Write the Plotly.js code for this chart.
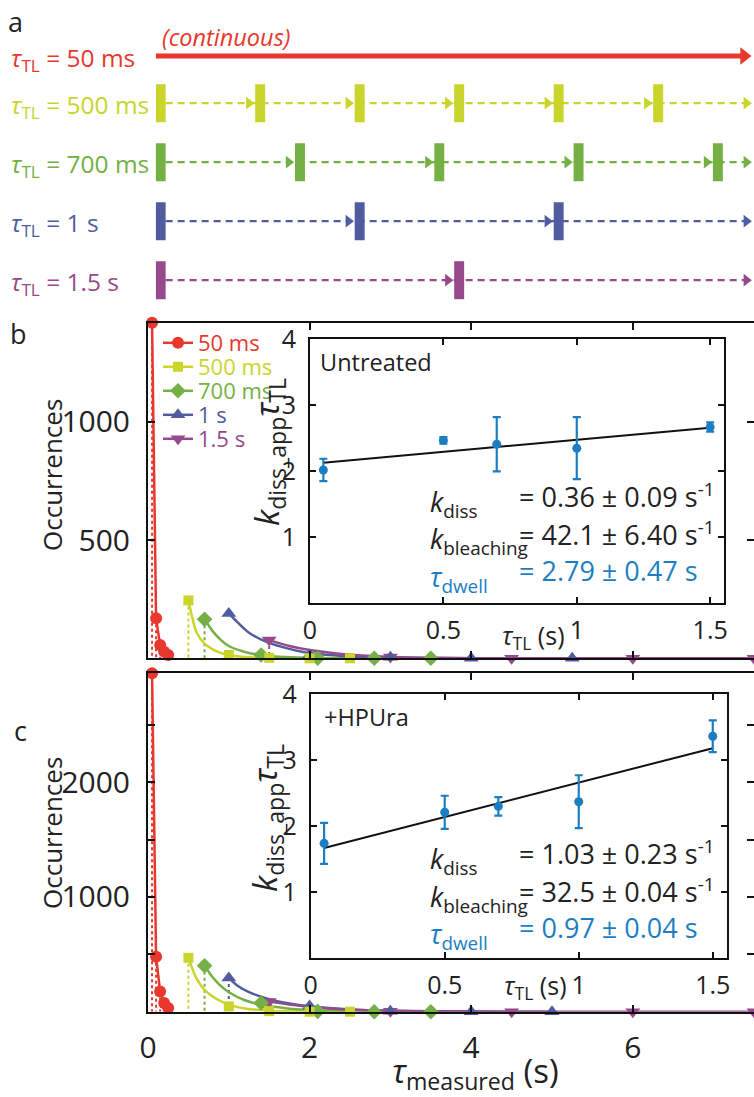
<!DOCTYPE html>
<html><head><meta charset="utf-8">
<script src="https://cdn.plot.ly/plotly-3.0.1.min.js"></script>
<style>html,body{margin:0;padding:0;background:#fff}</style>
</head><body><div id="chart" style="width:754px;height:1097px"></div>
<script>
// ---------- Panel a: illumination schemes ----------
const schemeLabels = ['50 ms', '500 ms', '700 ms', '1 s', '1.5 s'];
const frames500 = [0, 0.5, 1.0, 1.5, 2.0, 2.5];
const frames700 = [0, 0.7, 1.4, 2.1, 2.8];
const frames1000 = [0, 1.0, 2.0];
const frames1500 = [0, 1.5];
const exposure = 0.05;
const timelineEnd = 3.0;

// ---------- Panel b (untreated): histograms ----------
const legendLabels = ['50 ms', '500 ms', '700 ms', '1 s', '1.5 s'];
const b_x50 = [0.05, 0.1, 0.15, 0.2, 0.25];
const b_y50 = [1420, 169, 56, 28, 14];
const b_x500 = [0.5, 1.0, 1.5, 2.0, 2.5];
const b_y500 = [245, 14, 2, 0, 0];
const b_x700 = [0.7, 1.4, 2.1, 2.8, 3.5];
const b_y700 = [165, 14, 0, 0, 0];
const b_x1000 = [1, 2, 3, 4, 5.25];
const b_y1000 = [190, 14, 4, 0, 0];
const b_x1500 = [1.5, 3, 4.5, 6, 7.5];
const b_y1500 = [77, 5, 0, 0, 0];
const b_fx500 = [0.5, 0.55, 0.6, 0.7, 0.8, 0.9, 1.0, 1.2, 1.5, 2.0, 2.5];
const b_fy500 = [243, 170, 110, 62, 38, 23, 14, 5, 1, 0, 0];
const b_fx700 = [0.7, 0.8, 0.9, 1.0, 1.2, 1.4, 1.7, 2.1, 2.8, 3.5];
const b_fy700 = [165, 115, 78, 52, 27, 14, 5, 1, 0, 0];
const b_fx1000 = [1.0, 1.1, 1.25, 1.5, 1.75, 2.0, 2.5, 3.0, 4.0, 5.25];
const b_fy1000 = [190, 155, 108, 65, 40, 22, 8, 3, 0, 0];
const b_fx1500 = [1.5, 1.75, 2.0, 2.5, 3.0, 3.5, 4.5, 6.0, 7.5];
const b_fy1500 = [77, 52, 35, 15, 6, 2, 0, 0, 0];

// ---------- Panel c (+HPUra): histograms ----------
const c_x50 = [0.05, 0.1, 0.15, 0.2, 0.25];
const c_y50 = [2950, 480, 177, 76, 32];
const c_x500 = [0.5, 1.0, 1.5, 2.0, 2.5];
const c_y500 = [470, 46, 5, 0, 0];
const c_x700 = [0.7, 1.4, 2.1, 2.8, 3.5];
const c_y700 = [400, 76, 3, 0, 0];
const c_x1000 = [1, 2, 3, 4, 5];
const c_y1000 = [294, 50, 5, 0, 0];
const c_x1500 = [1.5, 3, 4.5, 6, 7.5];
const c_y1500 = [90, 5, 0, 0, 0];
const c_fx500 = [0.5, 0.6, 0.7, 0.8, 0.9, 1.0, 1.2, 1.5, 2.0, 2.5];
const c_fy500 = [470, 290, 190, 133, 92, 62, 28, 9, 1, 0];
const c_fx700 = [0.7, 0.8, 0.9, 1.0, 1.2, 1.4, 1.7, 2.1, 2.8, 3.5];
const c_fy700 = [400, 300, 225, 170, 100, 62, 30, 10, 2, 0];
const c_fx1000 = [1.0, 1.1, 1.25, 1.5, 1.75, 2.0, 2.5, 3.0, 4.0, 5.0];
const c_fy1000 = [294, 230, 170, 110, 72, 48, 20, 8, 1, 0];
const c_fx1500 = [1.5, 1.75, 2.0, 2.5, 3.0, 3.5, 4.5, 6.0, 7.5];
const c_fy1500 = [90, 62, 42, 19, 8, 3, 0, 0, 0];

// ---------- Insets ----------
const tauTL = [0.05, 0.5, 0.7, 1.0, 1.5];
const untreated_val = [2.02, 2.47, 2.41, 2.35, 2.67];
const untreated_err = [0.17, 0.05, 0.41, 0.47, 0.07];
const untreated_fitX = [0.05, 1.5];
const untreated_fitY = [2.13, 2.66];
const hpura_val = [1.74, 2.21, 2.30, 2.37, 3.36];
const hpura_err = [0.31, 0.25, 0.14, 0.40, 0.24];
const hpura_fitX = [0.05, 1.5];
const hpura_fitY = [1.67, 3.18];

// ---------- styles / layout helpers ----------
const W = 754, H = 1097;
const px = v => v / W;
const py = v => 1 - v / H;
const COL = ['#E8372C', '#C9D52A', '#74B043', '#505C9E', '#964A8B'];
const SYM = ['circle', 'square', 'diamond', 'triangle-up', 'triangle-down'];
const SIZE = [12, 10, 12, 13, 13];
const INSET = '#1B7EC2';
const FONT = 'Open Sans, DejaVu Sans, sans-serif';
const TXT = '#222';

const data = [];
const skip = {hoverinfo: 'skip', showlegend: false};

// panel a
const rowPos = [0, 0.8, 1.8, 2.8, 3.8];
const aXRange = [0, (W - 155.7) / 199];
const pxPerSec = (W - 155.7) / aXRange[1];
const tipOff = s => (s / 2) * 2 / Math.sqrt(3) / pxPerSec;
data.push(Object.assign({type: 'scatter', mode: 'lines', x: [0, timelineEnd - tipOff(15)], y: [rowPos[0], rowPos[0]],
  xaxis: 'x5', yaxis: 'y5', line: {color: COL[0], width: 5}}, skip));
data.push(Object.assign({type: 'scatter', mode: 'markers', x: [timelineEnd - tipOff(15)], y: [rowPos[0]],
  xaxis: 'x5', yaxis: 'y5', marker: {symbol: 'triangle-right', size: 15, color: COL[0]}, cliponaxis: false}, skip));
const schemeFrames = [null, frames500, frames700, frames1000, frames1500];
for (let i = 1; i < 5; i++) {
  const fr = schemeFrames[i];
  data.push(Object.assign({type: 'scatter', mode: 'lines', x: [exposure, timelineEnd - tipOff(11)], y: [rowPos[i], rowPos[i]],
    xaxis: 'x5', yaxis: 'y5', line: {color: COL[i], width: 2.2, dash: '7px,5px'}}, skip));
  data.push(Object.assign({type: 'scatter', mode: 'markers', x: fr.slice(1).concat([timelineEnd]).map(t => t - tipOff(11)),
    y: fr.map(() => rowPos[i]), xaxis: 'x5', yaxis: 'y5', cliponaxis: false,
    marker: {symbol: 'triangle-right', size: 11, color: COL[i]}}, skip));
  data.push(Object.assign({type: 'bar', orientation: 'h', base: fr, x: fr.map(() => exposure), y: fr.map(() => rowPos[i]),
    width: 0.644, xaxis: 'x5', yaxis: 'y5', marker: {color: COL[i], line: {width: 0}}}, skip));
}

// main histogram panels
function addPanel(xa, ya, pts, fits, dropIdx) {
  for (let i = 0; i < 5; i++) {
    const [x, y] = pts[i];
    const dx = [], dy = [];
    const n = i === 0 ? x.length : (dropIdx.includes(i) ? 1 : 0);
    for (let k = 0; k < n; k++) { dx.push(x[k], x[k], null); dy.push(y[k], 0, null); }
    if (n) data.push(Object.assign({type: 'scatter', mode: 'lines', x: dx, y: dy, xaxis: xa, yaxis: ya,
      line: {color: COL[i], width: 2, dash: 'dot'}}, skip));
  }
  for (let i = 1; i < 5; i++) {
    data.push(Object.assign({type: 'scatter', mode: 'lines', x: fits[i][0], y: fits[i][1], xaxis: xa, yaxis: ya,
      line: {color: COL[i], width: 2.5, shape: 'spline', smoothing: 0.8}}, skip));
  }
  for (let i = 4; i >= 0; i--) {
    data.push(Object.assign({type: 'scatter', mode: i === 0 ? 'lines+markers' : 'markers', x: pts[i][0], y: pts[i][1],
      xaxis: xa, yaxis: ya, cliponaxis: false, line: {color: COL[i], width: 2.5},
      marker: {symbol: SYM[i], size: SIZE[i], color: COL[i]}}, skip));
  }
}
addPanel('x', 'y',
  [[b_x50, b_y50], [b_x500, b_y500], [b_x700, b_y700], [b_x1000, b_y1000], [b_x1500, b_y1500]],
  [null, [b_fx500, b_fy500], [b_fx700, b_fy700], [b_fx1000, b_fy1000], [b_fx1500, b_fy1500]], [1, 2, 4]);
addPanel('x2', 'y2',
  [[c_x50, c_y50], [c_x500, c_y500], [c_x700, c_y700], [c_x1000, c_y1000], [c_x1500, c_y1500]],
  [null, [c_fx500, c_fy500], [c_fx700, c_fy700], [c_fx1000, c_fy1000], [c_fx1500, c_fy1500]], [1, 2, 3]);

// legend entries: one small legend per series so rows sit as in the figure
const legendIds = ['legend', 'legend2', 'legend3', 'legend4', 'legend5'];
const legendRowsPx = [343, 367, 391, 415, 439];
for (let i = 0; i < 5; i++) {
  data.push({type: 'scatter', mode: 'lines+markers', x: [null], y: [null], xaxis: 'x', yaxis: 'y',
    legend: legendIds[i],
    name: '<span style="color:' + COL[i] + '">' + legendLabels[i] + '</span>',
    line: {color: COL[i], width: 2.5}, marker: {symbol: SYM[i], size: SIZE[i], color: COL[i]}, hoverinfo: 'skip'});
}

// insets
function addInset(xa, ya, vals, errs, fx, fy) {
  data.push(Object.assign({type: 'scatter', mode: 'lines', x: fx, y: fy, xaxis: xa, yaxis: ya,
    line: {color: '#111', width: 2}}, skip));
  data.push(Object.assign({type: 'scatter', mode: 'markers', x: tauTL, y: vals, xaxis: xa, yaxis: ya,
    marker: {color: INSET, size: 9}, error_y: {type: 'data', array: errs, visible: true, color: INSET, thickness: 2.2, width: 4}}, skip));
}
addInset('x3', 'y3', untreated_val, untreated_err, untreated_fitX, untreated_fitY);
addInset('x4', 'y4', hpura_val, hpura_err, hpura_fitX, hpura_fitY);

// axes
const mainTick = {family: FONT, size: 30, color: TXT};
const axBase = {showline: true, linecolor: '#111', linewidth: 2, mirror: 'ticks', ticks: 'inside', ticklen: 7,
  tickwidth: 2, tickcolor: '#111', showgrid: false, zeroline: false, fixedrange: true,
  tickfont: mainTick};
const insetTick = {family: FONT, size: 25, color: TXT};
const mainX = [0, 7.5];
const layout = {
  width: W, height: H, margin: {l: 0, r: 0, t: 0, b: 0},
  paper_bgcolor: '#fff', plot_bgcolor: '#fff', barmode: 'overlay',
  font: {family: FONT, color: TXT},
  xaxis: Object.assign({}, axBase, {domain: [px(148), 1], range: mainX, anchor: 'y', tickvals: [0, 2, 4, 6], showticklabels: false}),
  yaxis: Object.assign({}, axBase, {domain: [py(658.3), py(322.7)], range: [0, 1420], anchor: 'x', tickvals: [500, 1000], ticklabelstandoff: 10}),
  xaxis2: Object.assign({}, axBase, {domain: [px(148), 1], range: mainX, anchor: 'y2', tickvals: [0, 2, 4, 6], ticklabelstandoff: 8}),
  yaxis2: Object.assign({}, axBase, {domain: [py(1011.7), py(673.3)], range: [0, 2950], anchor: 'x2',
    tickvals: [1000, 2000], ticklabelstandoff: 10,
    minor: {tickvals: [500, 1500, 2500], ticks: 'inside', ticklen: 7, tickwidth: 2, tickcolor: '#111', showgrid: false}}),
  xaxis3: Object.assign({}, axBase, {domain: [px(310), px(724.3)], range: [0, 1.553], anchor: 'y3',
    tickvals: [0, 0.5, 1, 1.5], ticktext: ['0', '0.5', '1', '1.5'], ticklen: 6, tickfont: insetTick, ticklabelstandoff: 4}),
  yaxis3: Object.assign({}, axBase, {domain: [py(603.3), py(339.3)], range: [0, 4], anchor: 'x3',
    tickvals: [1, 2, 3, 4], ticklen: 6, tickfont: insetTick, ticklabelstandoff: 7}),
  xaxis4: Object.assign({}, axBase, {domain: [px(310.7), px(726.7)], range: [0, 1.552], anchor: 'y4',
    tickvals: [0, 0.5, 1, 1.5], ticktext: ['0', '0.5', '1', '1.5'], ticklen: 6, tickfont: insetTick, ticklabelstandoff: 4}),
  yaxis4: Object.assign({}, axBase, {domain: [py(958.3), py(694)], range: [0, 4], anchor: 'x4',
    tickvals: [1, 2, 3, 4], ticklen: 6, tickfont: insetTick, ticklabelstandoff: 7}),
  xaxis5: {domain: [px(155.7), 1], range: aXRange, anchor: 'y5', visible: false, fixedrange: true},
  yaxis5: {domain: [py(310), py(20)], range: [(310 - 56) / 59, (20 - 56) / 59], anchor: 'x5', visible: false, fixedrange: true},
  showlegend: true,
  annotations: []
};
legendIds.forEach((id, i) => {
  layout[id] = {x: px(158), y: py(legendRowsPx[i]), xanchor: 'left', yanchor: 'middle', bgcolor: 'rgba(0,0,0,0)',
    font: {family: FONT, size: 22}, itemwidth: 30, borderwidth: 0};
});

function ann(text, x, y, o) {
  layout.annotations.push(Object.assign({text: text, x: px(x), y: py(y), xref: 'paper', yref: 'paper', showarrow: false,
    xanchor: 'left', yanchor: 'middle', font: {family: FONT, size: 25, color: TXT}}, o || {}));
}
// panel letters
ann('a', 15, 21, {xanchor: 'center', font: {family: FONT, size: 27, color: TXT}});
ann('b', 18, 333, {xanchor: 'center', font: {family: FONT, size: 27, color: TXT}});
ann('c', 20, 730, {xanchor: 'center', font: {family: FONT, size: 27, color: TXT}});
// panel a labels
for (let i = 0; i < 5; i++) {
  layout.annotations.push({text: '<i>τ</i><sub>TL</sub> = ' + schemeLabels[i], x: px(9), xref: 'paper', y: rowPos[i], yref: 'y5',
    showarrow: false, xanchor: 'left', yanchor: 'middle', yshift: -3, font: {family: FONT, size: 24.5, color: COL[i]}});
}
ann('<i>(continuous)</i>', 160, 37, {font: {family: FONT, size: 23.5, color: COL[0]}});
// axis titles
ann('Occurrences', 52, 475, {xanchor: 'center', textangle: -90, font: {family: FONT, size: 26, color: TXT}});
ann('Occurrences', 52, 833, {xanchor: 'center', textangle: -90, font: {family: FONT, size: 26, color: TXT}});
ann('<i>k</i><sub>diss_app</sub><i>τ</i><sub>TL</sub>', 268, 452, {xanchor: 'center', textangle: -90, font: {family: FONT, size: 33, color: TXT}});
ann('<i>k</i><sub>diss_app</sub><i>τ</i><sub>TL</sub>', 266, 818, {xanchor: 'center', textangle: -90, font: {family: FONT, size: 33, color: TXT}});
ann('<i>τ</i><sub>TL</sub> (s)', 533, 636, {xanchor: 'center', font: {family: FONT, size: 25, color: TXT}});
ann('<i>τ</i><sub>TL</sub> (s)', 535, 986, {xanchor: 'center', font: {family: FONT, size: 25, color: TXT}});
ann('<i>τ</i><sub>measured</sub> (s)', 475, 1072, {xanchor: 'center', font: {family: FONT, size: 33, color: TXT}});
// inset texts
ann('Untreated', 318, 362, {font: {family: FONT, size: 23.5, color: TXT}});
ann('+HPUra', 322, 717, {font: {family: FONT, size: 23.5, color: TXT}});
function eqs(y0, rows) {
  rows.forEach((r, k) => {
    const y = y0[k];
    ann(r[0], 428, y + 5, {font: {family: FONT, size: 27, color: r[2]}});
    ann(r[1], 517, y - 3, {font: {family: FONT, size: 27, color: r[2]}});
  });
}
eqs([498, 536, 573], [
  ['<i>k</i><sub>diss</sub>', '= 0.36 ± 0.09 s<sup>-1</sup>', TXT],
  ['<i>k</i><sub>bleaching</sub>', '= 42.1 ± 6.40 s<sup>-1</sup>', TXT],
  ['<i>τ</i><sub>dwell</sub>', '= 2.79 ± 0.47 s', INSET]]);
eqs([855, 893, 930], [
  ['<i>k</i><sub>diss</sub>', '= 1.03 ± 0.23 s<sup>-1</sup>', TXT],
  ['<i>k</i><sub>bleaching</sub>', '= 32.5 ± 0.04 s<sup>-1</sup>', TXT],
  ['<i>τ</i><sub>dwell</sub>', '= 0.97 ± 0.04 s', INSET]]);

Plotly.newPlot('chart', data, layout, {displayModeBar: false, staticPlot: true});
</script></body></html>
